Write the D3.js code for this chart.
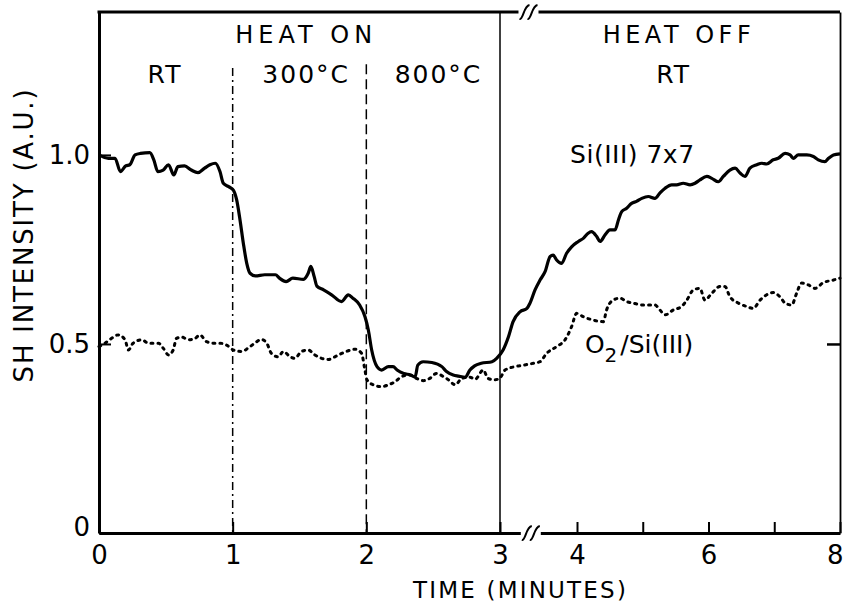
<!DOCTYPE html>
<html lang="en">
<head>
<meta charset="UTF-8">
<title>SH intensity vs time</title>
<script src="https://d3js.org/d3.v7.min.js"></script>
<style>
  body { margin: 0; background: #fff; }
  svg { display: block; }
  text { font-family: "DejaVu Sans", sans-serif; fill: #000; }
</style>
</head>
<body>
<svg width="843" height="605"></svg>
<script>
// Si(111) 7x7 trace (solid)
const siTime = [0.00, 0.07, 0.12, 0.16, 0.20, 0.23, 0.27, 0.31, 0.38, 0.41, 0.44, 0.48, 0.52, 0.56, 0.59, 0.64, 0.69, 0.74, 0.79, 0.83, 0.87, 0.905, 0.93, 0.97,
  1.005, 1.03, 1.055, 1.08, 1.105, 1.13, 1.17, 1.24, 1.32, 1.35, 1.40, 1.45, 1.53, 1.565, 1.585, 1.61, 1.63, 1.68, 1.74, 1.815, 1.865, 1.90, 1.95, 1.99,
  2.015, 2.04, 2.08, 2.115, 2.165, 2.20, 2.23, 2.28, 2.33, 2.365, 2.385, 2.425, 2.49, 2.565, 2.60, 2.65, 2.69, 2.74, 2.775, 2.81, 2.86, 2.94, 2.975,
  3.04, 3.11, 3.17, 3.26, 3.35, 3.39, 3.455, 3.52, 3.585, 3.65, 3.69, 3.735, 3.80, 3.865, 3.93,
  4.02, 4.10, 4.17, 4.22, 4.30, 4.35, 4.425, 4.50, 4.58, 4.63, 4.68, 4.755, 4.83, 4.905, 4.985,
  5.085, 5.185, 5.26, 5.34, 5.44, 5.515, 5.615, 5.72, 5.795, 5.87, 5.975,
  6.05, 6.15, 6.225, 6.325, 6.405, 6.48, 6.555, 6.63, 6.735, 6.81, 6.885, 6.985,
  7.06, 7.165, 7.24, 7.29, 7.365, 7.495, 7.595, 7.67, 7.77, 7.825, 7.90, 8.00];
const siValue = [1.000, 0.991, 0.991, 0.956, 0.971, 0.974, 1.000, 1.004, 1.006, 0.987, 0.956, 0.960, 0.974, 0.947, 0.969, 0.971, 0.960, 0.953, 0.965, 0.974, 0.978, 0.956, 0.925, 0.916,
  0.907, 0.881, 0.828, 0.766, 0.714, 0.687, 0.680, 0.683, 0.683, 0.674, 0.665, 0.674, 0.671, 0.687, 0.705, 0.678, 0.653, 0.643, 0.630, 0.612, 0.630, 0.621, 0.603, 0.572,
  0.537, 0.484, 0.440, 0.431, 0.440, 0.440, 0.431, 0.422, 0.418, 0.413, 0.444, 0.453, 0.451, 0.440, 0.427, 0.418, 0.415, 0.412, 0.431, 0.442, 0.449, 0.453, 0.462,
  0.484, 0.519, 0.559, 0.585, 0.594, 0.608, 0.643, 0.669, 0.691, 0.731, 0.735, 0.722, 0.713, 0.740, 0.757,
  0.771, 0.780, 0.793, 0.797, 0.784, 0.771, 0.788, 0.802, 0.802, 0.828, 0.850, 0.859, 0.872, 0.877, 0.885,
  0.890, 0.885, 0.899, 0.912, 0.921, 0.921, 0.925, 0.921, 0.925, 0.934, 0.943,
  0.938, 0.929, 0.943, 0.960, 0.965, 0.952, 0.943, 0.965, 0.974, 0.978, 0.976, 0.987,
  0.991, 1.004, 1.000, 0.991, 1.000, 1.000, 0.996, 0.987, 0.982, 0.991, 1.000, 1.003];

// O2/Si(111) trace (dotted)
const o2Time = [0.00, 0.045, 0.095, 0.145, 0.195, 0.22, 0.255, 0.32, 0.37, 0.445, 0.48, 0.52, 0.555, 0.58, 0.62, 0.67, 0.72, 0.755, 0.805, 0.855, 0.905, 0.955,
  1.005, 1.07, 1.115, 1.165, 1.215, 1.255, 1.29, 1.34, 1.38, 1.43, 1.465, 1.515, 1.565, 1.615, 1.665, 1.715, 1.765, 1.815, 1.865, 1.915, 1.965, 1.985,
  2.005, 2.05, 2.115, 2.165, 2.215, 2.265, 2.325, 2.375, 2.425, 2.475, 2.525, 2.575, 2.615, 2.665, 2.715, 2.775, 2.815, 2.875, 2.91, 2.96,
  3.00, 3.065, 3.195, 3.305, 3.435, 3.52, 3.605, 3.735, 3.845, 3.93, 3.995,
  4.095, 4.25, 4.40, 4.45, 4.55, 4.655, 4.755, 4.855, 5.01, 5.185, 5.26, 5.34, 5.465, 5.59, 5.67, 5.77, 5.87, 5.945,
  6.05, 6.175, 6.25, 6.325, 6.455, 6.58, 6.68, 6.785, 6.885, 6.985, 7.085, 7.165, 7.265, 7.34, 7.415, 7.52, 7.62, 7.745, 7.90, 8.00];
const o2Value = [0.493, 0.502, 0.515, 0.524, 0.511, 0.484, 0.502, 0.511, 0.502, 0.502, 0.489, 0.471, 0.484, 0.515, 0.518, 0.511, 0.515, 0.524, 0.506, 0.502, 0.502, 0.497,
  0.484, 0.480, 0.489, 0.502, 0.512, 0.502, 0.475, 0.466, 0.480, 0.466, 0.462, 0.480, 0.484, 0.471, 0.462, 0.459, 0.466, 0.475, 0.482, 0.486, 0.475, 0.440,
  0.405, 0.392, 0.387, 0.392, 0.400, 0.414, 0.418, 0.409, 0.403, 0.409, 0.422, 0.414, 0.405, 0.392, 0.409, 0.412, 0.407, 0.431, 0.409, 0.405,
  0.410, 0.431, 0.440, 0.444, 0.449, 0.453, 0.475, 0.493, 0.511, 0.546, 0.581,
  0.572, 0.563, 0.559, 0.590, 0.616, 0.621, 0.612, 0.608, 0.603, 0.603, 0.590, 0.577, 0.590, 0.599, 0.616, 0.643, 0.647, 0.616,
  0.634, 0.652, 0.652, 0.625, 0.608, 0.599, 0.594, 0.616, 0.630, 0.636, 0.625, 0.608, 0.603, 0.634, 0.661, 0.656, 0.647, 0.662, 0.669, 0.674];

const xTicks = [0, 1, 2, 3, 4, 5, 6, 7, 8];
const xTickLabels = ['0', '1', '2', '3', '4', '', '6', '', '8'];
const yTicks = [0, 0.5, 1.0];
const yTickLabels = ['0', '0.5', '1.0'];

const svg = d3.select('svg');

// axis is broken after 3 min, so the scale is piecewise
const x = d3.scaleLinear()
  .domain([0, 3, 4, 8])
  .range([99, 500, 577, 840]);

const y = d3.scaleLinear()
  .domain([0, 1.378])
  .range([533, 12]);

const siData = siTime.map((t, i) => ({ t, v: siValue[i] }));
const o2Data = o2Time.map((t, i) => ({ t, v: o2Value[i] }));

const line = d3.line()
  .x((d) => x(d.t))
  .y((d) => y(d.v))
  .curve(d3.curveMonotoneX);

// region separators
svg.append('line')
  .attr('x1', x(1)).attr('x2', x(1))
  .attr('y1', y(1.23)).attr('y2', y(0))
  .attr('stroke', '#000').attr('stroke-width', 1.5)
  .attr('stroke-dasharray', '8,4,2,4');

svg.append('line')
  .attr('x1', x(2)).attr('x2', x(2))
  .attr('y1', y(1.24)).attr('y2', y(0))
  .attr('stroke', '#000').attr('stroke-width', 1.5)
  .attr('stroke-dasharray', '10,5');

svg.append('line')
  .attr('x1', x(3)).attr('x2', x(3))
  .attr('y1', y(1.378)).attr('y2', y(0))
  .attr('stroke', '#000').attr('stroke-width', 1.5);

// curves
svg.append('path')
  .datum(o2Data)
  .attr('d', line)
  .attr('fill', 'none')
  .attr('stroke', '#000')
  .attr('stroke-width', 3)
  .attr('stroke-linecap', 'round')
  .attr('stroke-dasharray', '2,5');

svg.append('path')
  .datum(siData)
  .attr('d', line)
  .attr('fill', 'none')
  .attr('stroke', '#000')
  .attr('stroke-width', 3.2)
  .attr('stroke-linejoin', 'round');

// axes
const xAxis = svg.append('g')
  .attr('transform', `translate(0, ${y(0)})`)
  .call(d3.axisBottom(x)
    .tickValues(xTicks)
    .tickSize(-11)
    .tickSizeOuter(0)
    .tickPadding(13)
    .tickFormat((d, i) => xTickLabels[i]));

xAxis.select('.domain').attr('stroke-width', 3);
xAxis.selectAll('.tick line').attr('stroke-width', 2);
xAxis.selectAll('.tick text')
  .attr('font-size', 26)
  .style('font-family', '"DejaVu Sans", sans-serif');
// last label sits on the right edge
xAxis.selectAll('.tick text').filter((d) => d === 8)
  .attr('text-anchor', 'end')
  .attr('dx', 3);

const yAxis = svg.append('g')
  .attr('transform', `translate(${x(0)}, 0)`)
  .call(d3.axisLeft(y)
    .tickValues(yTicks)
    .tickSize(-12)
    .tickSizeOuter(0)
    .tickPadding(9)
    .tickFormat((d, i) => yTickLabels[i]));

yAxis.select('.domain').attr('stroke-width', 3);
yAxis.selectAll('.tick line').attr('stroke-width', 2);
yAxis.selectAll('.tick text')
  .attr('font-size', 26)
  .style('font-family', '"DejaVu Sans", sans-serif');
yAxis.selectAll('.tick text').filter((d) => d === 0).attr('dy', '0.1em');

const rAxis = svg.append('g')
  .attr('transform', `translate(${x(8)}, 0)`)
  .call(d3.axisRight(y)
    .tickValues([0.5])
    .tickSize(-13)
    .tickSizeOuter(0)
    .tickFormat(''));

rAxis.select('.domain').attr('stroke-width', 1.8);
rAxis.selectAll('.tick line').attr('stroke-width', 2.5);

svg.append('line')
  .attr('x1', x(0) - 1.5).attr('x2', x(8))
  .attr('y1', y(1.378)).attr('y2', y(1.378))
  .attr('stroke', '#000').attr('stroke-width', 3);

// axis break marks
const breakMark = (cx, cy) => {
  svg.append('rect')
    .attr('x', cx - 10).attr('y', cy - 3)
    .attr('width', 20).attr('height', 6)
    .attr('fill', '#fff');
  [-4, 4].forEach((dx) => {
    svg.append('path')
      .attr('d', `M${cx + dx - 5},${cy + 7} C${cx + dx - 1},${cy + 8} ${cx + dx - 1},${cy - 6} ${cx + dx + 5},${cy - 7}`)
      .attr('fill', 'none')
      .attr('stroke', '#000')
      .attr('stroke-width', 2);
  });
};
breakMark(x(3.4), y(0));
breakMark(x(3.37), y(1.378));

// annotations
const label = (t, v, txt, size, anchor, spacing) => svg.append('text')
  .attr('x', x(t))
  .attr('y', y(v))
  .attr('font-size', size)
  .attr('text-anchor', anchor)
  .attr('letter-spacing', spacing)
  .text(txt);

label(1.55, 1.296, 'HEAT ON', 24, 'middle', 5);
label(5.55, 1.296, 'HEAT OFF', 24, 'middle', 4.5);
label(0.494, 1.19, 'RT', 25, 'middle', 2);
label(5.47, 1.19, 'RT', 25, 'middle', 2);
label(1.55, 1.19, '300°C', 25, 'middle', 2);
label(2.54, 1.19, '800°C', 25, 'middle', 2);
label(3.91, 0.979, 'Si(III) 7x7', 25, 'start', 0.5);

const o2Label = label(4.12, 0.476, 'O', 25, 'start', 0);
o2Label.append('tspan').attr('font-size', 20).attr('dy', 9).text('2');
o2Label.append('tspan').attr('dy', -9).attr('dx', 3).text('/Si(III)');

svg.append('text')
  .attr('x', (x(3) + x(4)) / 2 - 18)
  .attr('y', 598)
  .attr('font-size', 23)
  .attr('text-anchor', 'middle')
  .attr('letter-spacing', 2.2)
  .text('TIME (MINUTES)');

svg.append('text')
  .attr('transform', 'rotate(-90)')
  .attr('x', -235)
  .attr('y', 33)
  .attr('font-size', 26)
  .attr('text-anchor', 'middle')
  .attr('letter-spacing', 1.8)
  .text('SH INTENSITY (A.U.)');
</script>
</body>
</html>
